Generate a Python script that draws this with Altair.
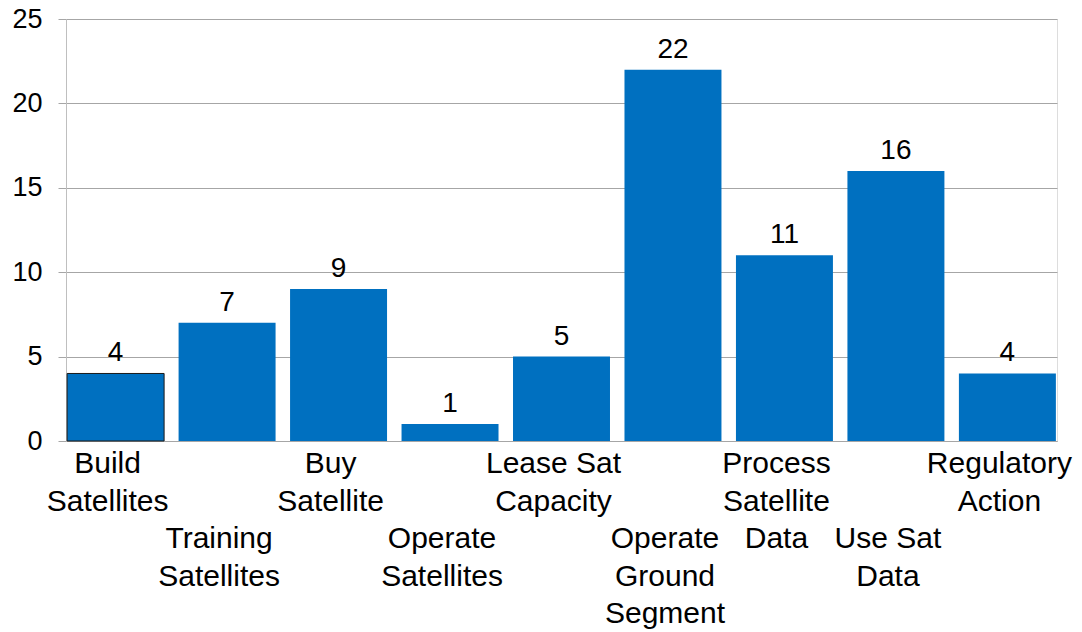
import altair as alt
import pandas as pd

categories = [
    "Build\nSatellites",
    "Training\nSatellites",
    "Buy\nSatellite",
    "Operate\nSatellites",
    "Lease Sat\nCapacity",
    "Operate\nGround\nSegment",
    "Process\nSatellite\nData",
    "Use Sat\nData",
    "Regulatory\nAction",
]
values = [4, 7, 9, 1, 5, 22, 11, 16, 4]
outlined = [True, False, False, False, False, False, False, False, False]

df = pd.DataFrame({"cat": categories, "val": values, "outlined": outlined})

FONT = "Liberation Sans"
PLOT_H = 422

x = alt.X(
    "cat:N",
    sort=None,
    scale=alt.Scale(paddingInner=0.13, paddingOuter=0.01),
    axis=alt.Axis(
        title=None,
        labels=False,
        ticks=False,
        domain=True,
        domainColor="#a6a6a6",
        grid=False,
    ),
)

y = alt.Y(
    "val:Q",
    scale=alt.Scale(domain=[0, 25], nice=False),
    axis=alt.Axis(
        title=None,
        values=[0, 5, 10, 15, 20, 25],
        labelFontSize=27,
        labelFont=FONT,
        labelColor="black",
        labelPadding=16,
        tickSize=8,
        tickColor="#a6a6a6",
        gridColor="#a6a6a6",
        domainColor="#bfbfbf",
    ),
)

base = alt.Chart(df)

bars = base.mark_bar(color="#0070C0").encode(
    x=x,
    y=y,
    stroke=alt.condition(alt.datum.outlined, alt.value("#1a1a1a"), alt.value("#0070C0")),
    strokeWidth=alt.condition(alt.datum.outlined, alt.value(1), alt.value(0)),
)

values_text = base.mark_text(
    font=FONT, fontSize=28, color="black", baseline="alphabetic", dy=-12
).encode(x=alt.X("cat:N", sort=None), y="val:Q", text="val:Q")

cat_text_style = dict(
    font=FONT, fontSize=30, color="black", baseline="top", align="center",
    lineBreak="\n", lineHeight=37.5, dx=-8,
)

cats_upper = (
    base.transform_window(idx="row_number()")
    .transform_filter("datum.idx % 2 == 1")
    .mark_text(**cat_text_style)
    .encode(x=alt.X("cat:N", sort=None), y=alt.value(PLOT_H + 8), text="cat:N")
)

cats_lower = (
    base.transform_window(idx="row_number()")
    .transform_filter("datum.idx % 2 == 0")
    .mark_text(**cat_text_style)
    .encode(x=alt.X("cat:N", sort=None), y=alt.value(PLOT_H + 8 + 75), text="cat:N")
)

chart = (
    alt.layer(bars, values_text, cats_upper, cats_lower)
    .properties(
        width=991,
        height=PLOT_H,
        autosize=alt.AutoSizeParams(type="none"),
        padding={"left": 66, "top": 19, "right": 25, "bottom": 191},
    )
    .configure_view(stroke=None)
    .configure(background="white")
)

chart.save("out.html", embed_options={"renderer": "svg", "actions": False})
